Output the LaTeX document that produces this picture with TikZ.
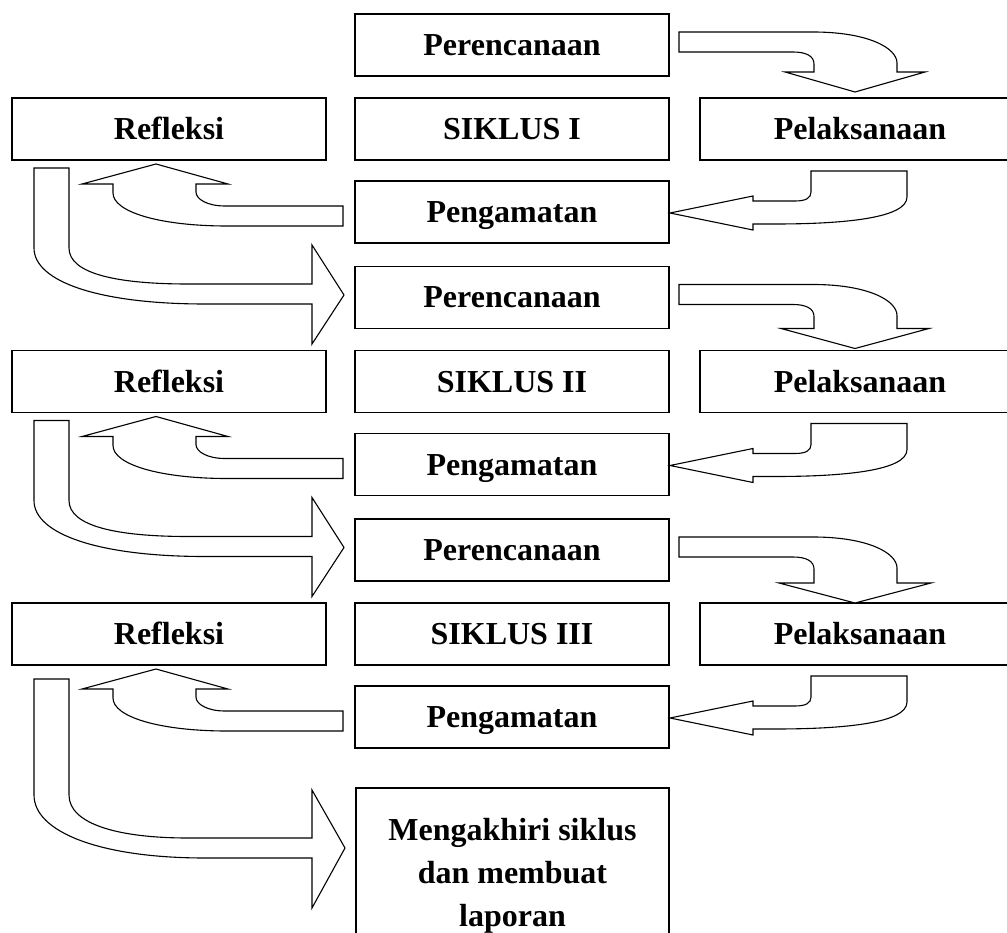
\documentclass[tikz,border=0pt]{standalone}
\usepackage{fontspec}
\setmainfont{Liberation Serif}
\begin{document}
\begin{tikzpicture}[x=1pt,y=-1pt,
  box/.style={draw, line width=1.7pt, minimum width=314pt, minimum height=62pt,
    inner sep=0pt, font=\fontsize{32}{42}\selectfont\bfseries,
    text height=21pt, text depth=0pt},
  endbox/.style={draw, line width=1.7pt, minimum width=313pt, minimum height=176pt,
    inner sep=0pt, align=center, font=\fontsize{32}{43}\selectfont\bfseries},
  barrow/.style={draw, line width=1.1pt, fill=white, line join=miter}]
\useasboundingbox (0,0) rectangle (1007,933);
\foreach \k/\r/\h in {0/I/0,1/II/4,2/III/6}{
\begin{scope}[shift={(0,\k*252.5)}]
  \node[box] (plan\k) at (512,45) {Perencanaan};
  \node[box] (refl\k) at (169,129) {Refleksi};
  \node[box] (sik\k) at (512,129) {SIKLUS \r};
  \node[box, minimum width=320pt] (pel\k) at (860,129) {Pelaksanaan};
  \node[box] (pen\k) at (512,212) {Pengamatan};
  % Perencanaan -> Pelaksanaan
  \draw[barrow] (679,32) -- (813,32) .. controls (868,32) and (897,48) .. (897,63)
    -- (897,72+\h) -- (925+\h,72+\h) -- (855,92+\h) -- (785-\h,72+\h) -- (814,72+\h) -- (814,64)
    .. controls (814,56) and (806,52) .. (793,52) -- (679,52) -- cycle;
  % Pelaksanaan -> Pengamatan
  \draw[barrow] (811,171) -- (907,171) -- (907,197)
    .. controls (907,218) and (845,224) .. (775,224) -- (753,224) -- (753,230)
    -- (670,213) -- (753,196) -- (753,201) -- (795,201)
    .. controls (806,201) and (811,198) .. (811,192) -- cycle;
  % Pengamatan -> Refleksi
  \draw[barrow] (343,206) -- (225,206) .. controls (207,206) and (196,199) .. (196,192)
    -- (196,184) -- (228,184) -- (156,164) -- (82,184) -- (113,184) -- (113,193)
    .. controls (113,212) and (160,226) .. (227,226) -- (343,226) -- cycle;
\end{scope}
}
% Refleksi -> next Perencanaan
\foreach \k in {0,1}{
\begin{scope}[shift={(0,\k*252.5)}]
  \draw[barrow] (34,168) -- (69,168) -- (69,248) .. controls (69,274) and (118,284) .. (188,284)
    -- (312,284) -- (312,245) -- (344,295) -- (312,344) -- (312,304) -- (205,304)
    .. controls (100,304) and (34,282) .. (34,248) -- cycle;
\end{scope}
}
\node[endbox] (final) at (512.5,876) {Mengakhiri siklus\\dan membuat\\laporan};
\draw[barrow] (34,679) -- (69,679) -- (69,795) .. controls (69,824) and (118,838) .. (188,838)
  -- (312,838) -- (312,790) -- (345,848) -- (312,908) -- (312,858) -- (205,858)
  .. controls (100,858) and (34,832) .. (34,795) -- cycle;
\end{tikzpicture}
\end{document}
